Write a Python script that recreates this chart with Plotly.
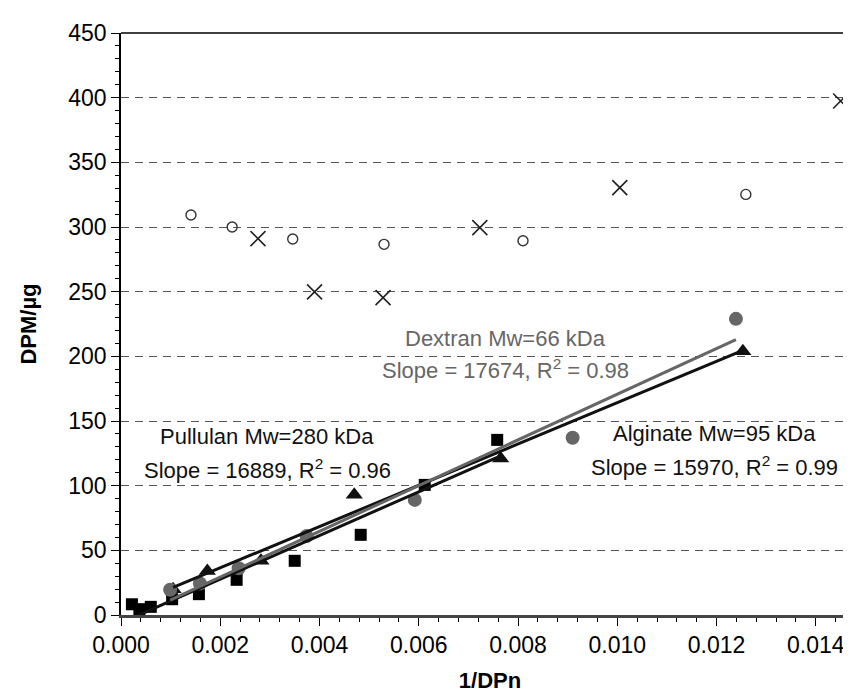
import numpy as np
import plotly.graph_objects as go

# ---- data ----
pullulan_x = [0.00022, 0.00037, 0.00060, 0.00103, 0.00157, 0.00233, 0.00350, 0.00483, 0.00612, 0.00758]
pullulan_y = [8.3, 4.5, 6.3, 12.2, 16.1, 27.2, 41.9, 62.0, 100.6, 135.4]

alginate_x = [0.00105, 0.00174, 0.00282, 0.00470, 0.00765, 0.01253]
alginate_y = [20.0, 34.0, 42.0, 93.0, 121.0, 204.0]

dextran_x = [0.00099, 0.00159, 0.00237, 0.00374, 0.00592, 0.00910, 0.01239]
dextran_y = [19.5, 24.3, 36.2, 61.0, 89.0, 137.0, 229.0]

open_x = [0.00141, 0.00224, 0.00346, 0.00530, 0.00810, 0.01259]
open_y = [309.3, 300.0, 290.7, 286.6, 289.4, 325.2]

cross_x = [0.00276, 0.00390, 0.00528, 0.00723, 0.01005, 0.01450]
cross_y = [291.0, 249.8, 245.4, 299.5, 330.4, 397.4]

slopes = {"pullulan": 16889, "alginate": 15970, "dextran": 17674}
r2 = {"pullulan": 0.96, "alginate": 0.99, "dextran": 0.98}
mw = {"pullulan": 280, "alginate": 95, "dextran": 66}

x_ticks = [0.000, 0.002, 0.004, 0.006, 0.008, 0.010, 0.012, 0.014]
y_ticks = [0, 50, 100, 150, 200, 250, 300, 350, 400, 450]

FONT = "Liberation Sans, Arial, sans-serif"


def trend(xs, ys, slope):
    xs = np.asarray(xs)
    ys = np.asarray(ys)
    b = ys.mean() - slope * xs.mean()
    xx = np.array([xs.min(), xs.max()])
    return xx, slope * xx + b


fig = go.Figure()

fig.add_trace(go.Scatter(x=cross_x, y=cross_y, mode="markers",
                         marker=dict(symbol="x-thin-open", size=15, color="#222",
                                     line=dict(width=1.6, color="#222"))))
fig.add_trace(go.Scatter(x=open_x, y=open_y, mode="markers",
                         marker=dict(symbol="circle-open", size=10, color="#333",
                                     line=dict(width=1.4, color="#333"))))
fig.add_trace(go.Scatter(x=pullulan_x, y=pullulan_y, mode="markers",
                         marker=dict(symbol="square", size=12, color="#000")))
fig.add_trace(go.Scatter(x=alginate_x, y=alginate_y, mode="markers",
                         marker=dict(symbol="triangle-up", size=15, color="#111")))
fig.add_trace(go.Scatter(x=dextran_x, y=dextran_y, mode="markers",
                         marker=dict(symbol="circle", size=14, color="#666")))

for key, xs, ys, col in [("pullulan", pullulan_x, pullulan_y, "#111"),
                         ("alginate", alginate_x, alginate_y, "#111"),
                         ("dextran", dextran_x, dextran_y, "#666")]:
    lx, ly = trend(xs, ys, slopes[key])
    fig.add_trace(go.Scatter(x=lx, y=ly, mode="lines",
                             line=dict(color=col, width=3)))

ann_font = dict(family=FONT, size=22)
labels = [
    ("pullulan", "Pullulan", 0.00295, 138, 113, "#111"),
    ("alginate", "Alginate", 0.01195, 140, 115, "#111"),
    ("dextran", "Dextran", 0.00774, 214, 190, "#666"),
]
for key, name, ax_, y1, y2, col in labels:
    fig.add_annotation(x=ax_, y=y1, text=f"{name} Mw={mw[key]} kDa", showarrow=False,
                       font=dict(ann_font, color=col), xanchor="center", yanchor="middle")
    fig.add_annotation(x=ax_, y=y2, text=f"Slope = {slopes[key]}, R<sup>2</sup> = {r2[key]:.2f}",
                       showarrow=False, font=dict(ann_font, color=col),
                       xanchor="center", yanchor="middle")

# top border of plot area
fig.add_shape(type="line", xref="paper", yref="paper", x0=0, x1=1, y0=1, y1=1,
              line=dict(color="#000", width=1.5))

fig.update_layout(
    width=851, height=697,
    margin=dict(l=113, r=0, t=25, b=90),
    paper_bgcolor="white", plot_bgcolor="white",
    showlegend=False,
    font=dict(family=FONT, color="#000", size=23),
    xaxis=dict(range=[0, 0.01487], tickvals=x_ticks, tickformat=".3f",
               ticks="outside", ticklen=8, tickwidth=1.2, tickcolor="#000",
               minor=dict(dtick=0.0004, tick0=0, ticks="outside", ticklen=4, tickcolor="#000"),
               showline=True, linecolor="#444", linewidth=2.5,
               showgrid=False, zeroline=False,
               tickfont=dict(family=FONT, size=23),
               title=dict(text="<b>1/DPn</b>", font=dict(family=FONT, size=22), standoff=16)),
    yaxis=dict(range=[0, 450], tickvals=y_ticks,
               ticks="outside", ticklen=8, tickwidth=1.2, tickcolor="#000",
               minor=dict(dtick=10, tick0=0, ticks="outside", ticklen=4, tickcolor="#000"),
               showline=True, linecolor="#000", linewidth=1.5,
               showgrid=True, gridcolor="#555", griddash="8px,6px", gridwidth=1,
               zeroline=False,
               tickfont=dict(family=FONT, size=23),
               title=dict(text="<b>DPM/µg</b>", font=dict(family=FONT, size=22), standoff=26)),
)

fig.write_html("out.html")
